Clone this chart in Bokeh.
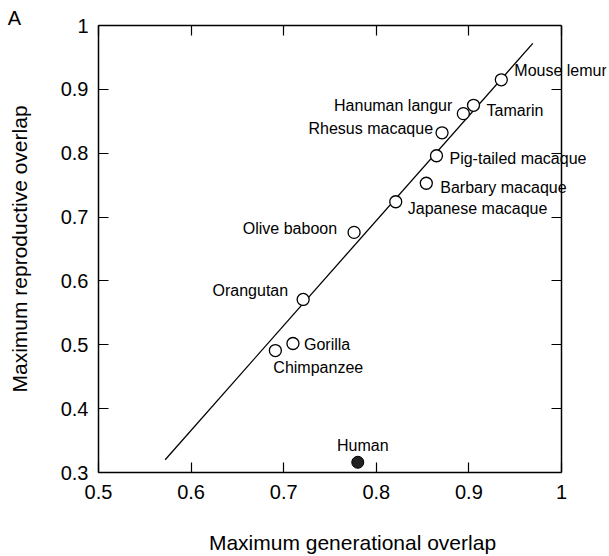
from bokeh.plotting import figure
from bokeh.models import (ColumnDataSource, FixedTicker, PrintfTickFormatter, LinearAxis,
                          Label, LabelSet, Range1d)
from bokeh.core.properties import value
from bokeh.embed import file_html
from bokeh.resources import INLINE

species = ["Mouse lemur", "Tamarin", "Hanuman langur", "Rhesus macaque", "Pig-tailed macaque",
           "Barbary macaque", "Japanese macaque", "Olive baboon", "Orangutan", "Gorilla", "Chimpanzee"]
gen_overlap = [0.935, 0.905, 0.894, 0.871, 0.865, 0.854, 0.821, 0.776, 0.721, 0.710, 0.691]
repro_overlap = [0.915, 0.875, 0.862, 0.832, 0.796, 0.753, 0.724, 0.676, 0.571, 0.502, 0.491]

human_name = ["Human"]
human_gen = [0.780]
human_repro = [0.316]

fit_x = [0.572, 0.969]
fit_y = [0.320, 0.972]

x_ticks = [0.5, 0.6, 0.7, 0.8, 0.9, 1.0]
y_ticks = [0.3, 0.4, 0.5, 0.6, 0.7, 0.8, 0.9, 1.0]
x_bounds = (0.5, 1.0)
y_bounds = (0.3, 1.0)

# label placement (styling only): pixel offsets (up = positive) and alignment
lab_dx = [13, 13, -11, -9, 13, 14, 12, -17, -15, 11, -2]
lab_dy = [9, -5, 8, 4, -3, -4, -7, 4, 9, -1, -17]
lab_align = ["left", "left", "right", "right", "left", "left", "left", "right", "right", "left", "left"]

FONT = "Liberation Sans"

# the frame extends a little beyond x = 1 so that labels may run past the box edge;
# the box itself is drawn by the four axes (bounded to the data box)
p = figure(width=609, height=556, output_backend="svg", toolbar_location=None,
           x_range=Range1d(0.5, 1.0486), y_range=Range1d(0.3, 1.0),
           min_border_left=98, min_border_right=3, min_border_top=25, min_border_bottom=84)
p.xgrid.visible = False
p.ygrid.visible = False
p.outline_line_color = None
p.background_fill_color = "white"
p.border_fill_color = "white"

fmt = PrintfTickFormatter(format="%g")
for ax in (p.xaxis[0], p.yaxis[0]):
    ax.formatter = fmt
    ax.major_tick_in = 10
    ax.major_tick_out = 0
    ax.minor_tick_line_color = None
    ax.axis_line_color = "black"
    ax.axis_line_width = 1.5
    ax.major_tick_line_color = "black"
    ax.major_tick_line_width = 1.2
    ax.major_label_text_font = FONT
    ax.major_label_text_font_size = "20px"
    ax.major_label_text_color = "black"
    ax.axis_label_text_font = FONT
    ax.axis_label_text_font_size = "21px"
    ax.axis_label_text_font_style = "normal"
    ax.axis_label_text_color = "black"
p.xaxis[0].ticker = FixedTicker(ticks=x_ticks)
p.yaxis[0].ticker = FixedTicker(ticks=y_ticks)
p.xaxis[0].bounds = x_bounds
p.yaxis[0].bounds = y_bounds
p.xaxis[0].axis_label = "Maximum generational overlap"
p.yaxis[0].axis_label = "Maximum reproductive overlap"
p.xaxis[0].major_label_standoff = 12
p.yaxis[0].major_label_standoff = 10
p.xaxis[0].axis_label_standoff = 29
p.yaxis[0].axis_label_standoff = 27

top = LinearAxis(ticker=FixedTicker(ticks=x_ticks), bounds=x_bounds, major_label_text_font_size="0px",
                 major_tick_in=10, major_tick_out=0, minor_tick_line_color=None,
                 major_tick_line_width=1.2, axis_line_width=1.5)
right = LinearAxis(ticker=FixedTicker(ticks=y_ticks), bounds=y_bounds, major_label_text_font_size="0px",
                   major_tick_in=10, major_tick_out=0, minor_tick_line_color=None,
                   major_tick_line_width=1.2, axis_line_width=1.5, fixed_location=x_bounds[1])
top.major_label_text_color = None
right.major_label_text_color = None
top.major_label_standoff = 0
right.major_label_standoff = 0
p.add_layout(top, "above")
p.add_layout(right, "right")

p.line(fit_x, fit_y, line_color="black", line_width=1.3)

src = ColumnDataSource(dict(x=gen_overlap, y=repro_overlap, name=species,
                            dx=lab_dx, dy=lab_dy, align=lab_align))
p.scatter("x", "y", source=src, size=12, fill_color="white", line_color="black", line_width=1.3)
p.add_layout(LabelSet(x="x", y="y", text="name", source=src, x_offset="dx", y_offset="dy",
                      text_align="align", text_baseline="middle", text_font=value(FONT),
                      text_font_size=value("16px"), text_color="black"))

hsrc = ColumnDataSource(dict(x=human_gen, y=human_repro, name=human_name))
p.scatter("x", "y", source=hsrc, size=12, fill_color="#222222", line_color="black", line_width=1.0)
p.add_layout(LabelSet(x="x", y="y", text="name", source=hsrc, x_offset=5, y_offset=17,
                      text_align="center", text_baseline="middle", text_font=value(FONT),
                      text_font_size=value("16px"), text_color="black"))

p.add_layout(Label(x=0.4093, y=1.0125, text="A", text_font=FONT, text_font_size="20px",
                   text_color="black", text_align="center", text_baseline="middle"), "above")

open("out.html", "w").write(file_html(p, INLINE))
